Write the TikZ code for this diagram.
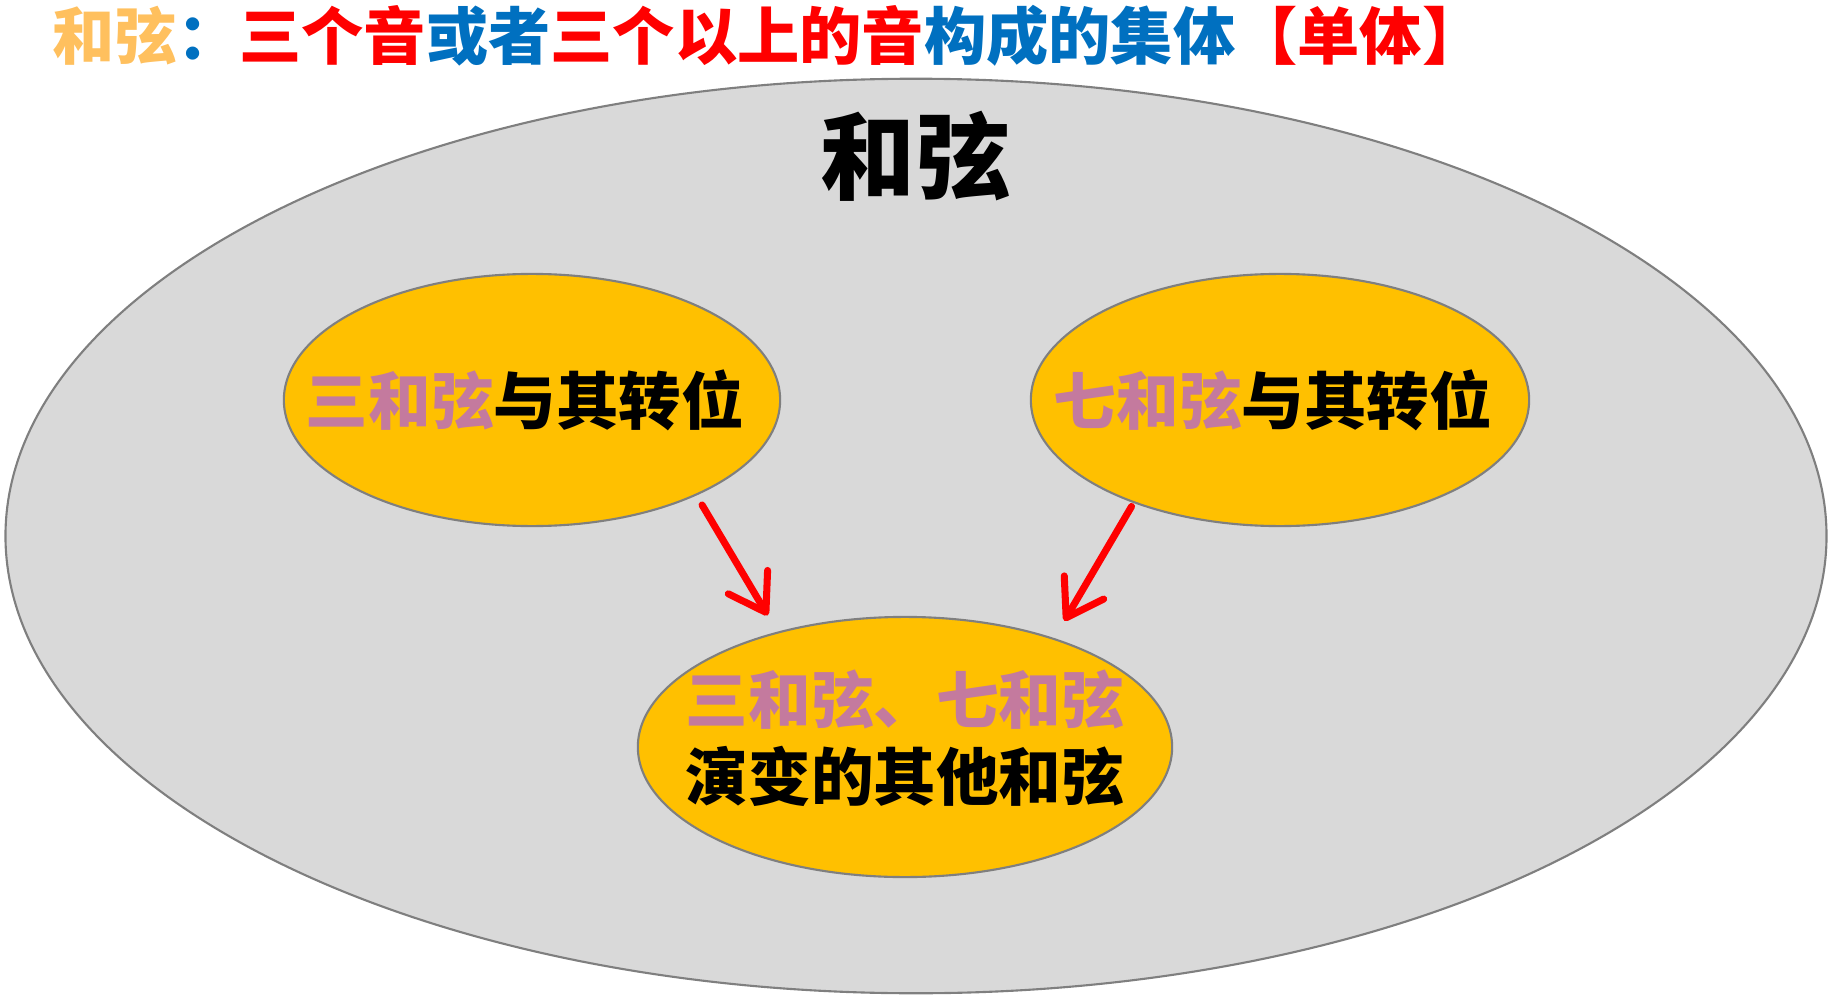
\documentclass[tikz,border=0pt]{standalone}
\usepackage{fontspec}
\setmainfont{Noto Sans CJK SC}
\usepackage{xcolor}
\usetikzlibrary{shapes.geometric,arrows.meta}
\definecolor{titleorange}{HTML}{FFC05E}
\definecolor{titleblue}{HTML}{0070C0}
\definecolor{titlered}{HTML}{FF0000}
\definecolor{chordpink}{HTML}{C47A9E}
\definecolor{chordyellow}{HTML}{FFC000}
\definecolor{setgray}{HTML}{D9D9D9}
\definecolor{rimgray}{HTML}{7F7F7F}
\newcommand\nowidth[1]{\makebox[0pt]{\kern-0.14cm#1}}

\begin{document}
\begin{tikzpicture}[x=0.01cm,y=-0.01cm,
  chord/.style={shape=ellipse,fill=chordyellow,draw=rimgray,line width=0.6pt,inner sep=0pt,outer sep=0pt,font=\bfseries\fontsize{17.8}{21.5}\selectfont},
  leadarrow/.style={draw=red,line width=2pt,line cap=round,line join=round,-{Straight Barb[round,length=10pt,width=13pt]}}]
\useasboundingbox (0,0) rectangle (1833,997);
%\draw[help lines] (0,0) grid[step=1cm] (1833,997);
\node[anchor=west,inner sep=0pt,font=\bfseries\fontsize{17.7}{20}\selectfont] (title) at (52,36)
  {\textcolor{titleorange}{和弦}\textcolor{titleblue}{：}\textcolor{titlered}{三个音}\textcolor{titleblue}{或者}\textcolor{titlered}{三个以上的音}\textcolor{titleblue}{构成的集体}\textcolor{titlered}{【单体】}};
% the whole set
\node[shape=ellipse,fill=setgray,draw=rimgray,line width=0.6pt,inner sep=0pt,outer sep=0pt,minimum width=18.2cm,minimum height=9.14cm] (set) at (916,536) {};
\node[font=\bfseries\fontsize{27}{30}\selectfont] (setname) at (915,156) {和弦};
% the three kinds
\node[chord,minimum width=4.96cm,minimum height=2.52cm] (triad) at (532,400)
  {\nowidth{\textcolor{chordpink}{三和弦}与其转位}};
\node[chord,minimum width=4.98cm,minimum height=2.52cm] (seventh) at (1280,400)
  {\nowidth{\textcolor{chordpink}{七和弦}与其转位}};
\node[chord,minimum width=5.34cm,minimum height=2.6cm] (others) at (905,747)
  {\makebox[0pt]{\begin{tabular}{@{}c@{}}\textcolor{chordpink}{三和弦、七和弦}\\演变的其他和弦\end{tabular}}};
\draw[leadarrow,shorten <=0.12cm,shorten >=0.2cm] (triad.-30.8) -- (others.138.2);
\draw[leadarrow,shorten <=0.05cm,shorten >=0.21cm] (seventh.215.4) -- (others.36.3);
\end{tikzpicture}
\end{document}
